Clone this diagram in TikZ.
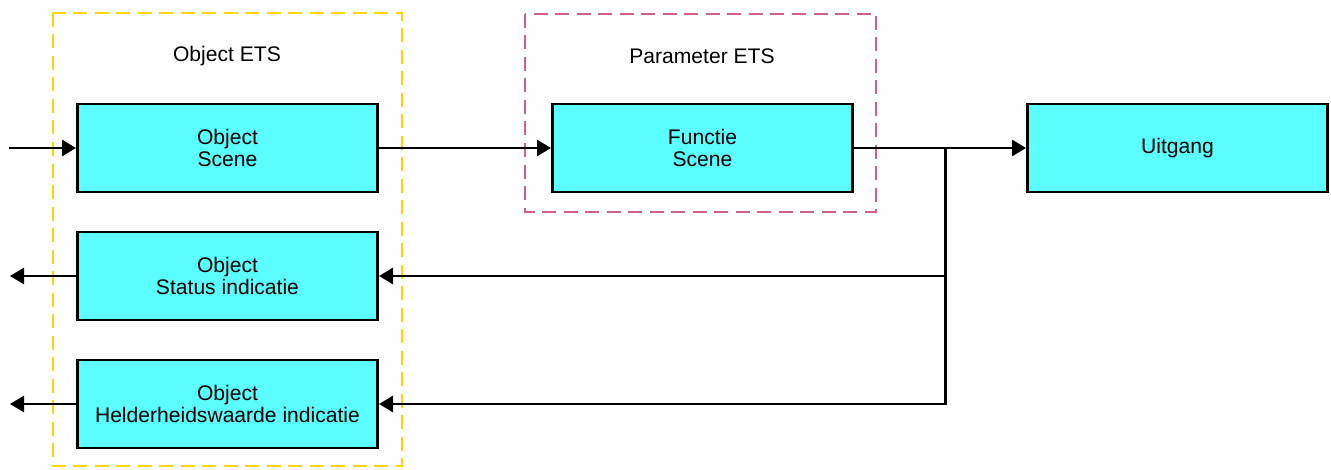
\documentclass[tikz,border=0pt]{standalone}
\usepackage{fontspec}
\setmainfont{Liberation Sans}
\usetikzlibrary{positioning, arrows.meta}

\definecolor{boxcyan}{HTML}{5CFFFF}
\definecolor{etsyellow}{HTML}{FFD500}
\definecolor{etspink}{HTML}{D0608A}

\begin{document}
\begin{tikzpicture}[
	x=0.2mm, y=-0.2mm,
	block/.style={rectangle, draw, line width=1.7pt, fill=boxcyan, minimum width=60mm, minimum height=17.6mm, align=center, font=\fontsize{12}{13}\selectfont},
	groupbox/.style={line width=1.4pt, dash pattern=on 2.8mm off 1.5mm},
	grouptext/.style={font=\fontsize{12}{13}\selectfont},
	wire/.style={line width=1.7pt},
	>={Triangle[length=2.8mm, width=3.2mm]}
]
\useasboundingbox (0,0) rectangle (1331,470);

% groups
\draw[groupbox, etsyellow] (53,13) rectangle (402,466);
\draw[groupbox, etspink] (525,14) rectangle (876,212);
\node[grouptext] (object_ets) at (227,56) {Object ETS};
\node[grouptext] (parameter_ets) at (702,56) {Parameter ETS};

% blocks
\node[block] (obj_scene) at (227.5,148) {Object\\Scene};
\node[block] (obj_status) at (227.5,276) {Object\\Status indicatie};
\node[block] (obj_helder) at (227.5,404) {Object\\Helderheidswaarde indicatie};
\node[block] (func_scene) at (702.5,148) {Functie\\Scene};
\node[block] (uitgang) at (1177.5,148) {Uitgang};

\coordinate (scene_in) at (9,148);
\coordinate (status_out) at (10,276);
\coordinate (helder_out) at (10,404);
\coordinate (split) at (945,148);

\draw[wire, ->] (scene_in) -- (obj_scene);
\draw[wire, ->] (obj_scene) -- (func_scene);
\draw[wire, ->] (func_scene) -- (uitgang);
\draw[wire, ->] (split) |- (obj_status);
\draw[wire, ->] (split) |- (obj_helder);
\draw[wire, ->] (obj_status) -- (status_out);
\draw[wire, ->] (obj_helder) -- (helder_out);
\end{tikzpicture}
\end{document}
